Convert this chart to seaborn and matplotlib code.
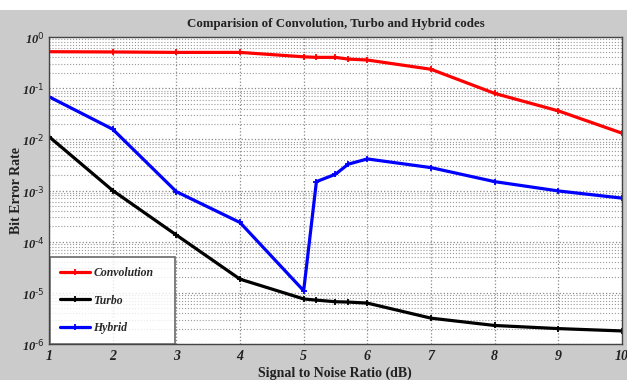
import numpy as np
import pandas as pd
import matplotlib
matplotlib.use("Agg")
import matplotlib.pyplot as plt
import matplotlib.ticker as mticker
from matplotlib.patches import Rectangle
import seaborn as sns

snr = [1, 2, 3, 4, 5, 5.2, 5.5, 5.7, 6, 7, 8, 9, 10]
convolution = [0.516, 0.51, 0.50, 0.50, 0.41, 0.40, 0.40, 0.37, 0.355, 0.234, 0.079, 0.036, 0.0132]
turbo = [0.0113, 1.0e-3, 1.35e-4, 1.85e-5, 7.6e-6, 7.2e-6, 6.7e-6, 6.6e-6, 6.3e-6, 3.2e-6, 2.3e-6, 2.0e-6, 1.8e-6]
hybrid = [0.068, 0.0158, 9.5e-4, 2.37e-4, 1.1e-5, 1.49e-3, 2.08e-3, 3.27e-3, 4.14e-3, 2.8e-3, 1.49e-3, 9.8e-4, 7.1e-4]
series_names = ["Convolution", "Turbo", "Hybrid"]
series_colors = ["#ff0000", "#000000", "#0000ff"]
x_ticks = [1, 2, 3, 4, 5, 6, 7, 8, 9, 10]

title = "Comparision of Convolution, Turbo and Hybrid codes"
xlabel = "Signal to Noise Ratio (dB)"
ylabel = "Bit Error Rate"

df = pd.concat([
    pd.DataFrame({"snr": snr, "ber": vals, "code": name})
    for name, vals in zip(series_names, [convolution, turbo, hybrid])
])

sns.set_style("white")
plt.rcParams["font.family"] = ["Liberation Serif", "DejaVu Serif"]

fig = plt.figure(figsize=(6.27, 3.8), dpi=100, facecolor="#cbcbcb")
fig.patches.append(Rectangle((0, 1 - 10 / 380), 1, 10 / 380, transform=fig.transFigure,
                             facecolor="white", edgecolor="none", zorder=0))
ax = fig.add_axes([49 / 627, 1 - 344 / 380, (622 - 49) / 627, (344 - 37) / 380])
ax.set_facecolor("white")

sns.lineplot(data=df, x="snr", y="ber", hue="code", palette=dict(zip(series_names, series_colors)),
             hue_order=series_names, marker="+", markersize=5, markeredgewidth=1.3,
             linewidth=2.3, ax=ax, sort=False, estimator=None)
for ln in ax.get_lines():
    ln.set_markeredgecolor(ln.get_color())
    ln.set_markerfacecolor(ln.get_color())

ax.set_yscale("log")
ax.set_ylim(1e-6, 1)
ax.set_xlim(1, 10)
ax.set_xticks(x_ticks)
ax.yaxis.set_major_locator(mticker.LogLocator(base=10, numticks=10))
ax.yaxis.set_minor_locator(mticker.LogLocator(base=10, subs=np.arange(2, 10), numticks=100))
ax.yaxis.set_minor_formatter(mticker.NullFormatter())


def pow_fmt(v, pos):
    e = int(round(np.log10(v)))
    return r"$\mathdefault{10^{\text{%d}}}$" % e


ax.yaxis.set_major_formatter(mticker.FuncFormatter(pow_fmt))

ax.grid(which="major", axis="both", linestyle=":", color="#888888", linewidth=0.9)
ax.grid(which="minor", axis="y", linestyle=":", color="#999999", linewidth=0.8)
ax.tick_params(which="both", length=0)
ax.tick_params(axis="y", pad=3)
ax.tick_params(axis="x", pad=4)
for lab in ax.get_xticklabels():
    lab.set_fontstyle("italic")
    lab.set_fontweight("bold")
    lab.set_fontsize(10)
    lab.set_color("#222222")
for lab in ax.get_yticklabels():
    lab.set_fontstyle("italic")
    lab.set_fontweight("bold")
    lab.set_fontsize(9)
    lab.set_color("#222222")

for sp in ax.spines.values():
    sp.set_color("#444444")
    sp.set_linewidth(1.0)

ax.set_title(title, fontsize=9.3, fontweight="bold", pad=7, color="#222222")
ax.set_xlabel(xlabel, fontsize=10, fontweight="bold", color="#222222")
ax.set_ylabel(ylabel, fontsize=10, fontweight="bold", color="#222222")
ax.xaxis.set_label_coords((335 - 49) / 573, -(367 - 344) / 307)
ax.yaxis.set_label_coords(-(49 - 23) / 573, 0.5)

leg = ax.legend(loc="lower left", bbox_to_anchor=(0.002, 0, (175 - 50) / 573, 0.3), mode="expand",
                borderaxespad=0, frameon=True,
                fancybox=False, edgecolor="#444444", handlelength=2.5, labelspacing=1.3,
                borderpad=0.85, handletextpad=0.3,
                prop={"family": "Liberation Serif", "style": "italic", "weight": "bold", "size": 8.5})
leg.get_frame().set_linewidth(1.2)
leg.set_title(None)

fig.savefig("out.png", dpi=100, facecolor=fig.get_facecolor())
